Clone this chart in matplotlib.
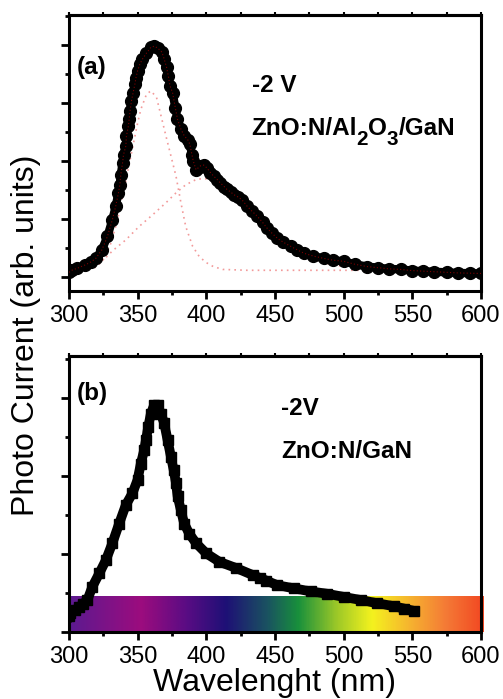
import numpy as np
import matplotlib
matplotlib.use("Agg")
import matplotlib.pyplot as plt
from matplotlib.colors import LinearSegmentedColormap
from matplotlib.ticker import MultipleLocator
from matplotlib.transforms import offset_copy

plt.rcParams['font.family'] = ['Liberation Sans', 'DejaVu Sans']

###########################################
#   (a) ZnO:N/Al2O3/GaN, -2 V             #
###########################################
nm_a = [300, 302.4, 306, 312, 316, 319.5, 324, 328, 331.6, 334, 336, 337, 337.7, 339,
        339.7, 341.4, 341.8, 343.3, 343.8, 344.5, 345.5, 346.7, 348, 348.7, 350, 351.6,
        353.5, 356.4, 359.6, 362, 364.5, 367.6, 369.3, 371, 372.3, 373.5, 375.4, 377.4,
        379, 381.5, 384, 386.4, 388, 389.5, 390.5, 392.5, 394, 396, 398, 400.5, 403,
        405.3, 408, 410.2, 413, 415, 418, 420, 423, 426, 429.7, 433, 437, 441, 444.3,
        448, 451.6, 456, 461.3, 466, 471, 478, 485.6, 492, 500, 508, 517, 525, 533,
        541.6, 550, 558, 566, 575, 583, 592, 600]
pc_a = [0.08, 0.12, 0.15, 0.21, 0.26, 0.32, 0.47, 0.70, 0.99, 1.22, 1.45, 1.59, 1.76, 1.97,
        2.11, 2.26, 2.43, 2.61, 2.72, 2.87, 3.04, 3.18, 3.33, 3.43, 3.56, 3.67,
        3.76, 3.86, 3.96, 3.98, 3.95, 3.88, 3.76, 3.62, 3.47, 3.30, 3.18, 2.92,
        2.72, 2.55, 2.43, 2.37, 2.29, 2.11, 2.00, 1.85, 1.88, 1.92, 1.93, 1.88, 1.80,
        1.74, 1.68, 1.62, 1.56, 1.51, 1.46, 1.42, 1.38, 1.33, 1.22, 1.14, 1.05, 0.94, 0.84,
        0.75, 0.67, 0.60, 0.53, 0.47, 0.41, 0.36, 0.32, 0.29, 0.27, 0.22, 0.18, 0.16, 0.14,
        0.13, 0.11, 0.10, 0.09, 0.08, 0.07, 0.065, 0.06]

# composantes du fit (pointillés roses)
nm_g1 = [310, 320, 325, 330, 335, 340, 345, 350, 352.3, 356.4, 359.6, 363.7, 367, 370.6,
         374.2, 377.9, 381.5, 385, 390, 394.9, 399.8, 405, 412, 430, 460, 500, 550, 600]
pc_g1 = [0.12, 0.17, 0.30, 0.55, 0.95, 1.50, 2.08, 2.66, 2.89, 3.15, 3.21, 3.10, 2.78, 2.43,
         2.09, 1.74, 1.28, 0.87, 0.53, 0.35, 0.25, 0.18, 0.13, 0.115, 0.115, 0.115, 0.115, 0.115]
nm_g2 = [320, 323, 328, 331.6, 341.4, 351, 360.8, 370.6, 377.9, 385, 392.5, 398, 404, 410,
         420, 430, 440, 450, 460, 470, 480, 490, 500, 520, 550, 600]
pc_g2 = [0.23, 0.27, 0.36, 0.45, 0.64, 0.87, 1.07, 1.28, 1.45, 1.59, 1.68, 1.70, 1.67, 1.58,
         1.38, 1.14, 0.90, 0.68, 0.50, 0.37, 0.28, 0.22, 0.18, 0.14, 0.12, 0.115]

###########################################
#   (b) ZnO:N/GaN, -2V                    #
###########################################
nm_b = [300, 301, 304, 307.3, 310, 313.4, 317, 322, 326.8, 331.6, 336.5, 341.4, 346.2,
        349.9, 352.3, 354.7, 356, 357.7, 359.6, 362, 364.5, 366.9, 369.3, 371.8, 374.2,
        376.2, 377.9, 379.1, 381.5, 383.9, 387.6, 392.5, 399.8, 409.5, 421.7, 433.8,
        439.4, 443.6, 451.6, 463.7, 476, 488, 500, 512.4, 524, 536.7, 544, 551.3]
pc_b = [0.20, 0.24, 0.28, 0.32, 0.36, 0.41, 0.58, 0.75, 0.92, 1.14, 1.39, 1.63, 1.78,
        1.95, 2.16, 2.33, 2.46, 2.63, 2.80, 2.91, 2.91, 2.80, 2.68, 2.46, 2.25,
        2.08, 1.91, 1.74, 1.56, 1.39, 1.26, 1.14, 1.01, 0.90, 0.82, 0.73,
        0.69, 0.66, 0.60, 0.56, 0.52, 0.49, 0.45, 0.41, 0.37, 0.33, 0.30, 0.27]

# bande du spectre visible sous la courbe (b)
spec_nm = [300, 352, 385, 414, 445, 467, 495, 521, 550, 575, 602]
spec_colors = ['#5c1a90', '#9c0c7e', '#5a0c84', '#1e1076', '#1a5460', '#18903c',
               '#9cc828', '#f4f21e', '#f6b030', '#f47a36', '#f24822']

TXT = 17.5  # taille des annotations


def style_axes(ax, ylim, ymajor):
    ax.set_xlim(300, 600)
    ax.set_ylim(*ylim)
    ax.xaxis.set_major_locator(MultipleLocator(50))
    ax.xaxis.set_minor_locator(MultipleLocator(25))
    ax.yaxis.set_major_locator(MultipleLocator(ymajor))
    ax.yaxis.set_minor_locator(MultipleLocator(ymajor / 2))
    for s in ax.spines.values():
        s.set_linewidth(2.2)
    ax.tick_params(which='major', direction='out', length=6, width=2, labelsize=17, pad=4)
    ax.tick_params(which='minor', direction='out', length=3, width=2)
    ax.tick_params(axis='y', labelleft=False)
    top = ax.secondary_xaxis('top')
    top.xaxis.set_major_locator(MultipleLocator(25))
    top.tick_params(direction='out', length=2, width=1.5, labeltop=False)
    top.spines['top'].set_linewidth(2.2)


def chem_text(fig, ax, x, y, pieces):
    # texte en morceaux : (chaine, decalage vertical en points, facteur de taille)
    renderer = fig.canvas.get_renderer()
    dx = 0.0
    for s, dy, k in pieces:
        tr = offset_copy(ax.transAxes, fig=fig, x=dx, y=dy, units='points')
        t = ax.text(x, y, s, transform=tr, fontsize=TXT * k, fontweight='bold',
                    va='baseline')
        dx += t.get_window_extent(renderer).width * 72.0 / fig.dpi


def main():
    fig = plt.figure(figsize=(5.03, 6.99), dpi=100)
    ax1 = fig.add_axes([0.1372, 0.5837, 0.819, 0.3948])
    ax2 = fig.add_axes([0.1372, 0.0959, 0.819, 0.3948])

    ########################## panneau (a) ###################################
    ax1.plot(nm_g1, pc_g1, color='#f29a9a', lw=1.2, ls=(0, (1, 2.5)), zorder=2)
    ax1.plot(nm_g2, pc_g2, color='#f29a9a', lw=1.2, ls=(0, (1, 2.5)), zorder=2)
    ax1.plot(nm_a, pc_a, color='black', lw=6, solid_capstyle='round', zorder=3)
    ax1.plot(nm_a, pc_a, 'o', color='black', ms=8.5, zorder=4)
    ax1.plot(nm_a, pc_a, color='#7a0000', lw=0.8, ls=(0, (1, 2)), zorder=5)
    style_axes(ax1, (-0.242, 4.518), 1)

    ax1.text(0.019, 0.786, '(a)', transform=ax1.transAxes, fontsize=TXT,
             fontweight='bold', va='baseline')
    ax1.text(0.444, 0.722, '-2 V', transform=ax1.transAxes, fontsize=TXT,
             fontweight='bold', va='baseline')
    chem_text(fig, ax1, 0.442, 0.565,
              [('ZnO:N/Al', 0, 1), ('2', -7, 0.85), ('O', 0, 1), ('3', -7, 0.85),
               ('/GaN', 0, 1)])

    ########################## panneau (b) ###################################
    cmap = LinearSegmentedColormap.from_list(
        'spectre', [((n - spec_nm[0]) / (spec_nm[-1] - spec_nm[0]), c)
                    for n, c in zip(spec_nm, spec_colors)])
    ax2.imshow(np.linspace(0, 1, 600)[None, :], cmap=cmap, aspect='auto',
               extent=[spec_nm[0], spec_nm[-1], 0, 0.45], clip_on=False, zorder=1)
    ax2.plot(nm_b, pc_b, color='black', lw=7, zorder=3)
    ax2.plot(nm_b, pc_b, 's', color='black', ms=7.5, zorder=4)
    style_axes(ax2, (0, 3.54), 1)

    ax2.text(0.019, 0.841, '(b)', transform=ax2.transAxes, fontsize=TXT,
             fontweight='bold', va='baseline')
    ax2.text(0.515, 0.786, '-2V', transform=ax2.transAxes, fontsize=TXT,
             fontweight='bold', va='baseline')
    ax2.text(0.515, 0.629, 'ZnO:N/GaN', transform=ax2.transAxes, fontsize=TXT,
             fontweight='bold', va='baseline')

    fig.text(0.052, 0.521, 'Photo Current (arb. units)', rotation=90, fontsize=23,
             ha='center', va='center')
    fig.text(0.545, 0.011, 'Wavelenght (nm)', fontsize=23, ha='center', va='baseline')

    fig.savefig('out.png', dpi=100)


if __name__ == "__main__":
    main()
